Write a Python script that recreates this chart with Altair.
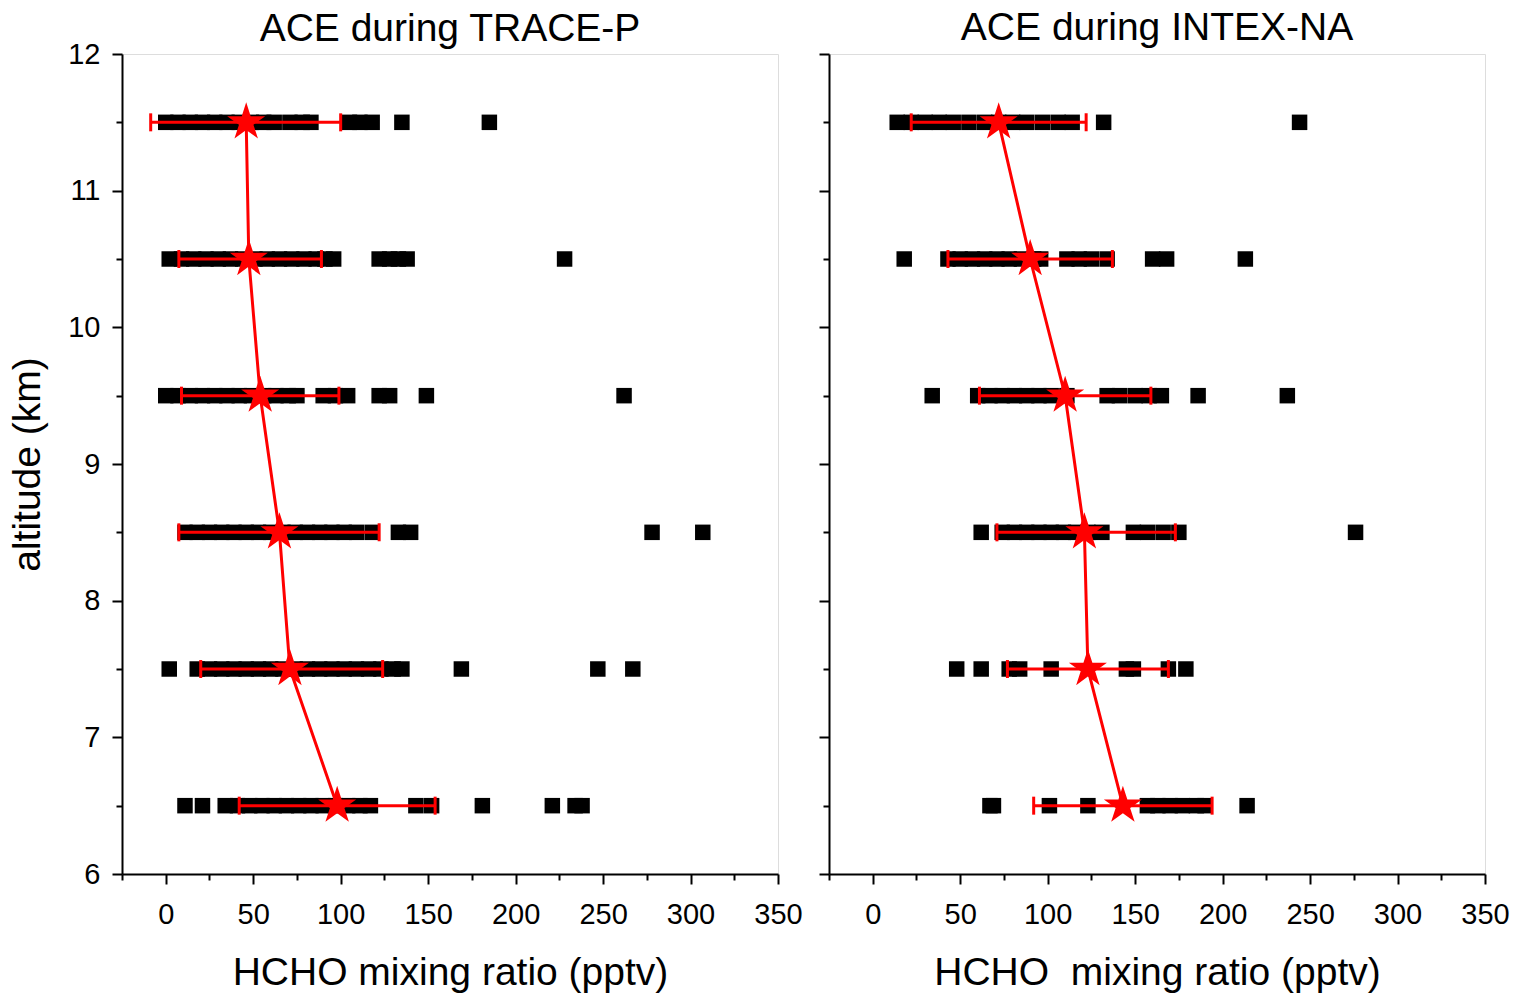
import math
import altair as alt
import pandas as pd

# ---------------- data ----------------
ALTITUDES = [11.5, 10.5, 9.5, 8.5, 7.5, 6.5]

# ACE during TRACE-P : individual HCHO samples (pptv) per altitude bin
tp_115 = [0, 7, 14, 21, 28, 35, 42, 49, 56, 62, 71, 78, 83, 105, 111, 118, 135, 185]
tp_105 = [2, 9, 16, 23, 30, 37, 44, 51, 58, 65, 72, 79, 86, 91, 96, 122, 128, 133, 138, 228]
tp_95 = [0, 7, 14, 21, 28, 35, 42, 49, 56, 63, 70, 75, 90, 97, 104, 122, 128, 149, 262]
tp_85 = [11, 18, 25, 32, 39, 46, 53, 60, 67, 74, 81, 88, 95, 102, 109, 118, 133, 140, 278, 307]
tp_75 = [2, 18, 25, 32, 39, 46, 53, 60, 67, 74, 81, 88, 95, 102, 109, 116, 123, 130, 135, 169, 247, 267]
tp_65 = [11, 21, 34, 41, 48, 55, 62, 69, 76, 83, 90, 97, 104, 111, 117, 143, 152, 181, 221, 234, 238]

tp_mean = [46, 47.5, 54, 65, 71, 98]
tp_lo = [-8.6, 7.5, 9, 7.5, 20, 42]
tp_hi = [100, 89, 99, 122, 124, 154]

# ACE during INTEX-NA
in_115 = [14, 22, 30, 38, 46, 55, 64, 72, 80, 88, 97, 106, 114, 132, 244]
in_105 = [18, 43, 50, 57, 64, 71, 78, 85, 92, 96, 111, 118, 125, 134, 160, 168, 213]
in_95 = [34, 60, 67, 74, 81, 88, 95, 102, 111, 134, 141, 150, 158, 165, 186, 237]
in_85 = [62, 74, 81, 88, 95, 102, 109, 116, 123, 131, 149, 157, 166, 175, 276]
in_75 = [48, 62, 78, 84, 102, 145, 149, 169, 179]
in_65 = [67, 69, 101, 123, 157, 163, 170, 177, 185, 190, 214]

in_mean = [72, 90, 110, 121, 123, 143]
in_lo = [22, 43, 61, 71, 77, 92]
in_hi = [122, 137, 159, 173, 169, 194]

# ---------------- style ----------------
FONT = "Liberation Sans"
TICK_FS = 29
TITLE_FS = 39


def star_path(inner=0.38):
    pts = []
    for k in range(10):
        r = 1.0 if k % 2 == 0 else inner
        a = math.pi / 2 + k * math.pi / 5
        pts.append((r * math.cos(a), -r * math.sin(a)))
    return "M" + " L".join(f"{x:.4f},{y:.4f}" for x, y in pts) + " Z"


STAR = star_path()


def points_df(groups):
    rows = []
    for a, vals in zip(ALTITUDES, groups):
        for v in vals:
            rows.append({"alt": a, "v": v})
    return pd.DataFrame(rows)


def stats_df(mean, lo, hi):
    return pd.DataFrame({"alt": ALTITUDES, "mean": mean, "lo": lo, "hi": hi})


x_vals = [-25 + 25 * i for i in range(16)]
y_vals = [6 + 0.5 * i for i in range(13)]


def x_axis(title):
    return alt.Axis(
        title=title, values=x_vals,
        labelExpr="datum.value % 50 == 0 ? format(datum.value, 'd') : ''",
        tickSize={"condition": {"test": "datum.value % 50 != 0", "value": 6}, "value": 10},
        tickWidth=2, tickColor="black", domainColor="black", domainWidth=2,
        labelFont=FONT, labelFontSize=TICK_FS, labelColor="black", labelPadding=16,
        titleFont=FONT, titleFontSize=TITLE_FS, titleFontWeight="normal", titleColor="black",
        titlePadding=24, grid=False, labelFlush=False, labelOverlap=False,
    )


def y_axis(show):
    common = dict(
        values=y_vals,
        tickSize={"condition": {"test": "datum.value % 1 != 0", "value": 6}, "value": 10},
        tickWidth=2, tickColor="black", domainColor="black", domainWidth=2,
        grid=False, labelFont=FONT, labelFontSize=TICK_FS, labelColor="black",
        labelPadding=12, titleFont=FONT, titleFontSize=TITLE_FS,
        titleFontWeight="normal", titleColor="black", titlePadding=20,
        labelFlush=False, labelOverlap=False,
    )
    if show:
        return alt.Axis(title="altitude (km)",
                        labelExpr="datum.value % 1 == 0 ? format(datum.value, 'd') : ''", **common)
    return alt.Axis(title=None, labels=False, **common)


def panel(pts, st, title, xtitle, show_y, title_offset):
    xs = alt.Scale(domain=[-25, 350], nice=False, zero=False)
    ys = alt.Scale(domain=[6, 12], nice=False, zero=False)
    Y = alt.Y("alt:Q", scale=ys, axis=y_axis(show_y))

    def X(field):
        return alt.X(f"{field}:Q", scale=xs, axis=x_axis(xtitle))

    squares = alt.Chart(pts).mark_square(size=240, color="black", filled=True, opacity=1).encode(
        x=X("v"), y=Y)
    bars = alt.Chart(st).mark_rule(color="red", strokeWidth=3).encode(
        x=X("lo"), x2="hi:Q", y=Y)
    cap_lo = alt.Chart(st).mark_tick(orient="vertical", color="red", thickness=3, size=18, opacity=1).encode(
        x=X("lo"), y=Y)
    cap_hi = alt.Chart(st).mark_tick(orient="vertical", color="red", thickness=3, size=18, opacity=1).encode(
        x=X("hi"), y=Y)
    line = alt.Chart(st).mark_line(color="red", strokeWidth=3).encode(
        x=X("mean"), y=Y, order="alt:Q")
    stars = alt.Chart(st).mark_point(shape=STAR, size=1600, filled=True, color="red", opacity=1,
                                     strokeWidth=0).encode(x=X("mean"), y=Y)
    return alt.layer(squares, bars, cap_lo, cap_hi, line, stars).properties(
        width=656, height=820,
        title=alt.TitleParams(title, font=FONT, fontSize=TITLE_FS, fontWeight="normal",
                              color="black", anchor="middle", offset=title_offset),
    )


left = panel(points_df([tp_115, tp_105, tp_95, tp_85, tp_75, tp_65]),
             stats_df(tp_mean, tp_lo, tp_hi),
             "ACE during TRACE-P", "HCHO mixing ratio (pptv)", True, -9)
right = panel(points_df([in_115, in_105, in_95, in_85, in_75, in_65]),
              stats_df(in_mean, in_lo, in_hi),
              "ACE during INTEX-NA", "HCHO\u00a0 mixing ratio (pptv)", False, 5.5)

chart = alt.hconcat(left, right, spacing=14).properties(
    padding={"left": 0, "top": 0, "right": 0, "bottom": 0}
).configure_view(stroke="black", strokeWidth=2).configure(background="white")

chart.save("out.html", embed_options={"renderer": "svg", "actions": False})
